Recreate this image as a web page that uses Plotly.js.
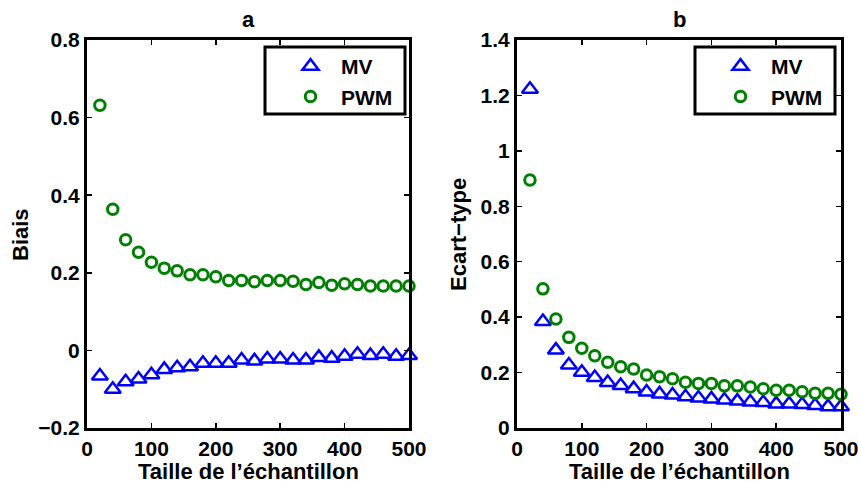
<!DOCTYPE html>
<html>
<head>
<meta charset="utf-8">
<script src="https://cdn.plot.ly/plotly-3.0.1.min.js"></script>
<style>html,body{margin:0;padding:0;background:#fff;}#chart{width:859px;height:484px;}</style>
</head>
<body>
<div id="chart"></div>
<script>
// Sample sizes
const tailles = [20,40,60,80,100,120,140,160,180,200,220,240,260,280,300,320,340,360,380,400,420,440,460,480,500];

// Panel a: bias
const biaisMV  = [-0.066,-0.100,-0.081,-0.074,-0.063,-0.049,-0.045,-0.042,-0.033,-0.033,-0.033,-0.025,-0.027,-0.022,-0.022,-0.025,-0.025,-0.018,-0.020,-0.015,-0.010,-0.013,-0.010,-0.015,-0.013];
const biaisPWM = [0.632,0.364,0.285,0.253,0.227,0.212,0.205,0.195,0.195,0.190,0.180,0.180,0.177,0.180,0.180,0.178,0.170,0.175,0.168,0.172,0.170,0.166,0.166,0.166,0.166];

// Panel b: standard deviation
const ecartMV  = [1.222,0.384,0.281,0.227,0.201,0.182,0.164,0.153,0.142,0.130,0.123,0.119,0.113,0.108,0.105,0.101,0.097,0.094,0.092,0.087,0.087,0.085,0.081,0.077,0.077];
const ecartPWM = [0.895,0.502,0.393,0.327,0.288,0.261,0.237,0.221,0.213,0.191,0.185,0.178,0.165,0.161,0.161,0.152,0.152,0.148,0.142,0.136,0.136,0.131,0.125,0.125,0.122];

const xTicks = [0,100,200,300,400,500];
const yTicksA = [-0.2,0,0.2,0.4,0.6,0.8];
const yTicksB = [0,0.2,0.4,0.6,0.8,1,1.2,1.4];

const FONT = 'Liberation Sans, Arial, sans-serif';
const W = 859, H = 484;
const px = v => v / W;
const py = v => 1 - v / H;

const mvMarker = {symbol:'triangle-up-open', size:14, color:'#0000ff', line:{width:2.5, color:'#0000ff'}};
const pwmMarker = {symbol:'circle-open', size:10.5, color:'#008000', line:{width:3, color:'#008000'}};

const traces = [
  {x:tailles, y:biaisMV, type:'scatter', mode:'markers', name:'MV', marker:mvMarker, xaxis:'x', yaxis:'y', legend:'legend', cliponaxis:false},
  {x:tailles, y:biaisPWM, type:'scatter', mode:'markers', name:'PWM', marker:pwmMarker, xaxis:'x', yaxis:'y', legend:'legend', cliponaxis:false},
  {x:tailles, y:ecartMV, type:'scatter', mode:'markers', name:'MV', marker:mvMarker, xaxis:'x2', yaxis:'y2', legend:'legend2', cliponaxis:false},
  {x:tailles, y:ecartPWM, type:'scatter', mode:'markers', name:'PWM', marker:pwmMarker, xaxis:'x2', yaxis:'y2', legend:'legend2', cliponaxis:false}
];

const axisCommon = {
  showline:true, linewidth:3, linecolor:'#000', mirror:'allticks',
  ticks:'inside', ticklen:5, tickwidth:1.5, tickcolor:'#000',
  showgrid:false, zeroline:false, fixedrange:true,
  tickfont:{family:FONT, size:21, color:'#000', weight:'bold'}
};

const legendCommon = {
  bgcolor:'rgba(255,255,255,0)', borderwidth:0,
  font:{family:FONT, size:21, color:'#000', weight:'bold'},
  xanchor:'left', yanchor:'top', itemwidth:51, tracegroupgap:0
};

const titleFont = {family:FONT, size:22, color:'#000', weight:'bold'};

const layout = {
  width:W, height:H,
  margin:{l:0, r:0, t:0, b:0},
  paper_bgcolor:'#fff', plot_bgcolor:'#fff',
  showlegend:true,
  xaxis:Object.assign({}, axisCommon, {domain:[px(87), px(409)], range:[0,500], tickvals:xTicks, anchor:'y'}),
  yaxis:Object.assign({}, axisCommon, {domain:[py(428), py(40)], range:[-0.2,0.8], tickvals:yTicksA, anchor:'x'}),
  xaxis2:Object.assign({}, axisCommon, {domain:[px(517), px(841)], range:[0,500], tickvals:xTicks, anchor:'y2'}),
  yaxis2:Object.assign({}, axisCommon, {domain:[py(428), py(40)], range:[0,1.4], tickvals:yTicksB, anchor:'x2'}),
  legend:Object.assign({}, legendCommon, {x:px(280), y:py(46)}),
  legend2:Object.assign({}, legendCommon, {x:px(710), y:py(46)}),
  shapes:[
    {type:'rect', xref:'paper', yref:'paper', x0:px(265), x1:px(405), y0:py(114), y1:py(47), line:{color:'#000', width:3}, fillcolor:'rgba(0,0,0,0)', layer:'above'},
    {type:'rect', xref:'paper', yref:'paper', x0:px(695), x1:px(835), y0:py(114), y1:py(47), line:{color:'#000', width:3}, fillcolor:'rgba(0,0,0,0)', layer:'above'}
  ],
  annotations:[
    {text:'a', xref:'paper', yref:'paper', x:px(248), y:py(19), xanchor:'center', yanchor:'middle', showarrow:false, font:titleFont},
    {text:'b', xref:'paper', yref:'paper', x:px(679), y:py(19), xanchor:'center', yanchor:'middle', showarrow:false, font:titleFont},
    {text:'Taille de l’échantillon', xref:'paper', yref:'paper', x:px(248), y:py(471), xanchor:'center', yanchor:'middle', showarrow:false, font:titleFont},
    {text:'Taille de l’échantillon', xref:'paper', yref:'paper', x:px(679), y:py(471), xanchor:'center', yanchor:'middle', showarrow:false, font:titleFont},
    {text:'Biais', xref:'paper', yref:'paper', x:px(20), y:py(235), xanchor:'center', yanchor:'middle', textangle:-90, showarrow:false, font:titleFont},
    {text:'Ecart−type', xref:'paper', yref:'paper', x:px(458), y:py(235), xanchor:'center', yanchor:'middle', textangle:-90, showarrow:false, font:titleFont}
  ]
};

Plotly.newPlot('chart', traces, layout, {displayModeBar:false, staticPlot:true});
</script>
</body>
</html>
